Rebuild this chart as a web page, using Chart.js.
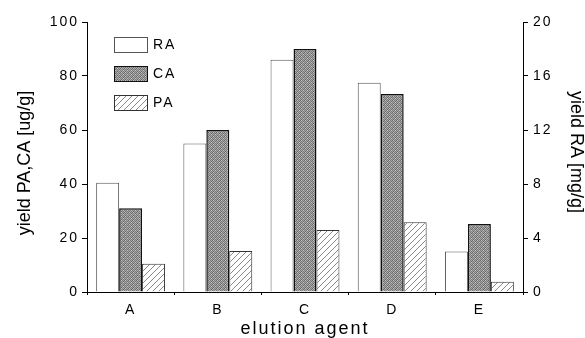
<!DOCTYPE html>
<html>
<head>
<meta charset="utf-8">
<script src="https://cdn.jsdelivr.net/npm/chart.js@4"></script>
<style>
  html, body { margin: 0; padding: 0; background: #fff; }
  #wrap { width: 585px; height: 338px; position: relative; }
</style>
</head>
<body>
<div id="wrap"><canvas id="chartYield"></canvas></div>
<script>
// Datos
const categorias = ['A', 'B', 'C', 'D', 'E'];
const valoresRA = [8.1, 11.0, 17.2, 15.5, 3.0];      // mg/g, eje derecho
const valoresCA = [31.0, 60.0, 90.0, 73.3, 25.2];    // ug/g, eje izquierdo
const valoresPA = [10.5, 15.2, 23.0, 25.8, 3.8];     // ug/g, eje izquierdo
const ticksIzq = [0, 20, 40, 60, 80, 100];
const ticksDer = [0, 4, 8, 12, 16, 20];

const FONT = 'Liberation Sans, Arial, Helvetica, sans-serif';

// Patrón punteado gris (CA)
function patronPunteado() {
    const c = document.createElement('canvas');
    c.width = 4; c.height = 4;
    const g = c.getContext('2d');
    g.fillStyle = '#a6a6a6';
    g.fillRect(0, 0, 4, 4);
    const oscuros = [[0, 0], [2, 0], [1, 1], [3, 1], [0, 2], [2, 2], [1, 3], [3, 3]];
    oscuros.forEach(([x, y], i) => {
        g.fillStyle = i % 3 === 0 ? '#666' : '#7c7c7c';
        g.fillRect(x, y, 1, 1);
    });
    g.fillStyle = '#c4c4c4';
    g.fillRect(1, 0, 1, 1);
    g.fillRect(3, 2, 1, 1);
    return g.createPattern(c, 'repeat');
}

// Patrón rayado diagonal (PA)
function patronRayado() {
    const c = document.createElement('canvas');
    c.width = 6; c.height = 6;
    const g = c.getContext('2d');
    g.fillStyle = '#fff';
    g.fillRect(0, 0, 6, 6);
    g.strokeStyle = '#8a8a8a';
    g.lineWidth = 1;
    g.beginPath();
    g.moveTo(0, 6); g.lineTo(6, 0);
    g.moveTo(-1, 1); g.lineTo(1, -1);
    g.moveTo(5, 7); g.lineTo(7, 5);
    g.stroke();
    return g.createPattern(c, 'repeat');
}

// Título del eje Y sin espaciado y con desplazamiento vertical
function tituloEjeY(desplazamiento) {
    return function(scale) {
        if (scale._tituloParcheado) return;
        scale._tituloParcheado = true;
        const original = scale.drawTitle;
        scale.drawTitle = function() {
            const c = this.ctx;
            const prev = c.letterSpacing;
            c.save();
            c.letterSpacing = '0px';
            c.translate(0, desplazamiento);
            original.call(this);
            c.restore();
            c.letterSpacing = prev;
        };
    };
}

// Leyenda dentro del área del gráfico
const leyendaPlugin = {
    id: 'leyendaInterna',
    beforeDraw(chart) {
        chart.ctx.letterSpacing = '2px';
    },
    afterDraw(chart) {
        const ctx = chart.ctx;
        ctx.save();
        ctx.font = '14px ' + FONT;
        ctx.textBaseline = 'middle';
        chart.data.datasets.forEach((ds, i) => {
            const x = 114, y = 37 + i * 29;
            ctx.fillStyle = ds.backgroundColor;
            ctx.fillRect(x, y, 33, 15);
            ctx.strokeStyle = ds.borderColor;
            ctx.lineWidth = 1;
            ctx.strokeRect(x + 0.5, y + 0.5, 33, 15);
            ctx.fillStyle = '#000';
            ctx.fillText(ds.label, x + 39, y + 8);
        });
        ctx.restore();
        ctx.letterSpacing = '0px';
    }
};

const ctx = document.getElementById('chartYield').getContext('2d');
new Chart(ctx, {
    type: 'bar',
    data: {
        labels: categorias,
        datasets: [
            {
                label: 'RA',
                data: valoresRA,
                yAxisID: 'yDer',
                backgroundColor: '#ffffff',
                borderColor: '#555555',
                borderWidth: 1
            },
            {
                label: 'CA',
                data: valoresCA,
                yAxisID: 'yIzq',
                backgroundColor: patronPunteado(),
                borderColor: '#111111',
                borderWidth: 1.5
            },
            {
                label: 'PA',
                data: valoresPA,
                yAxisID: 'yIzq',
                backgroundColor: patronRayado(),
                borderColor: '#333333',
                borderWidth: 1
            }
        ]
    },
    options: {
        responsive: true,
        maintainAspectRatio: false,
        animation: false,
        layout: { padding: { top: 22, left: 0, right: 0, bottom: 0 } },
        datasets: {
            bar: { categoryPercentage: 0.79, barPercentage: 1.0 }
        },
        plugins: {
            legend: { display: false },
            tooltip: { enabled: false }
        },
        scales: {
            x: {
                afterFit: s => { s.height = 46; },
                grid: {
                    offset: true,
                    drawOnChartArea: false,
                    drawTicks: true,
                    tickLength: 3,
                    color: '#000'
                },
                border: { display: true, color: '#000', width: 1 },
                ticks: { padding: 7, color: '#000', font: { family: FONT, size: 14 } },
                title: {
                    display: true,
                    text: 'elution agent',
                    color: '#000',
                    font: { family: FONT, size: 18, lineHeight: 1 },
                    padding: { top: 0, bottom: 0 }
                }
            },
            yIzq: {
                position: 'left',
                min: 0,
                max: 100,
                afterFit: s => { s.width = 87; tituloEjeY(6)(s); },
                afterBuildTicks: s => { s.ticks = ticksIzq.map(v => ({ value: v })); },
                grid: { drawOnChartArea: false, tickLength: 5, color: '#000' },
                border: { display: true, color: '#000', width: 1 },
                ticks: { padding: 3, color: '#000', font: { family: FONT, size: 14 } },
                title: {
                    display: true,
                    text: 'yield PA,CA [ug/g]',
                    color: '#000',
                    font: { family: FONT, size: 18, lineHeight: 1 },
                    padding: { top: 16, bottom: 0 }
                }
            },
            yDer: {
                position: 'right',
                min: 0,
                max: 20,
                afterFit: s => { s.width = 62; tituloEjeY(-5)(s); },
                afterBuildTicks: s => { s.ticks = ticksDer.map(v => ({ value: v })); },
                grid: { drawOnChartArea: false, tickLength: 5, color: '#000' },
                border: { display: true, color: '#000', width: 1 },
                ticks: { padding: 5, color: '#000', font: { family: FONT, size: 14 } },
                title: {
                    display: true,
                    text: 'yield RA [mg/g]',
                    color: '#000',
                    font: { family: FONT, size: 18, lineHeight: 1 },
                    padding: { top: 0, bottom: 0 }
                }
            }
        }
    },
    plugins: [leyendaPlugin]
});
</script>
</body>
</html>
